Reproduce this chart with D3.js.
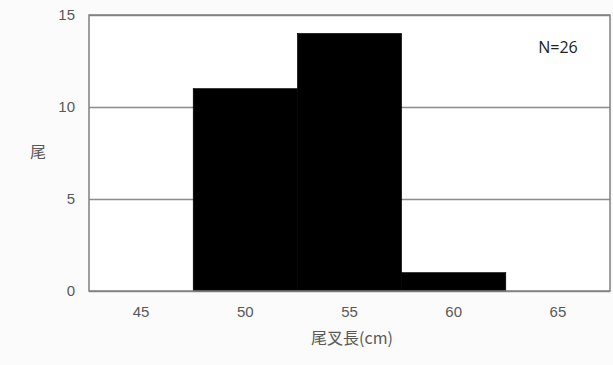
<!DOCTYPE html>
<html><head><meta charset="utf-8">
<script src="https://cdn.jsdelivr.net/npm/d3@7"></script>
<style>body{margin:0;background:#fbfbfb;}svg{display:block;}</style>
</head><body>
<script>
const categories = ["45","50","55","60","65"];
const counts = [0, 11, 14, 1, 0];
const yTicks = [0, 5, 10, 15];
const yTitle = "尾";
const xTitle = "尾叉長(cm)";
const note = "N=26";

const W = 613, H = 365;
const m = {left: 89, right: 3, top: 15, bottom: 74};
const svg = d3.select("body").append("svg").attr("width", W).attr("height", H);
svg.append("rect").attr("width", W).attr("height", H).attr("fill", "#fbfbfb");

const x = d3.scaleBand().domain(categories).range([m.left, W - m.right]).padding(0);
const y = d3.scaleLinear().domain([0, 15]).range([H - m.bottom, m.top]);

svg.append("rect").attr("x", m.left).attr("y", m.top)
  .attr("width", W - m.right - m.left).attr("height", H - m.bottom - m.top).attr("fill", "#fff");

const font = "'Noto Sans CJK JP', 'Noto Sans', sans-serif";
const numFont = "'Liberation Sans', Arial, sans-serif";

// gridlines
const yAxis = d3.axisLeft(y).tickValues(yTicks).tickSize(-(W - m.right - m.left)).tickPadding(14);
const gy = svg.append("g").attr("transform", `translate(${m.left},0)`).call(yAxis);
gy.select(".domain").remove();
gy.selectAll("line").attr("stroke", "#8c8c8c").attr("stroke-width", 1.5);
gy.selectAll("text").attr("fill", "#595959").attr("font-size", 15).attr("font-family", numFont);

// bars
svg.append("g").selectAll("rect").data(categories.map((c, i) => ({c, v: counts[i]})))
  .join("rect")
  .attr("x", d => x(d.c)).attr("width", x.bandwidth())
  .attr("y", d => y(d.v)).attr("height", d => y(0) - y(d.v))
  .attr("fill", "#000").attr("stroke", d => d.v > 0 ? "#000" : "none").attr("stroke-width", 0.6);

// border
svg.append("rect").attr("x", m.left).attr("y", m.top)
  .attr("width", W - m.right - m.left).attr("height", H - m.bottom - m.top)
  .attr("fill", "none").attr("stroke", "#808080").attr("stroke-width", 1.5);

// x axis labels
const xAxis = d3.axisBottom(x).tickSize(0).tickPadding(15);
const gx = svg.append("g").attr("transform", `translate(0,${H - m.bottom})`).call(xAxis);
gx.select(".domain").remove();
gx.selectAll("text").attr("fill", "#595959").attr("font-size", 15).attr("font-family", numFont);

svg.append("text").attr("x", 352).attr("y", 344).attr("text-anchor", "middle")
  .attr("fill", "#595959").attr("font-size", 16).attr("font-family", font).text(xTitle);
svg.append("text").attr("x", 38).attr("y", 158).attr("text-anchor", "middle")
  .attr("fill", "#595959").attr("font-size", 16).attr("font-family", font).text(yTitle);
svg.append("text").attr("x", 558).attr("y", 53).attr("text-anchor", "middle")
  .attr("fill", "#222").attr("font-size", 16).attr("font-family", "'Open Sans', 'Noto Sans', sans-serif").text(note);
</script>
</body></html>
